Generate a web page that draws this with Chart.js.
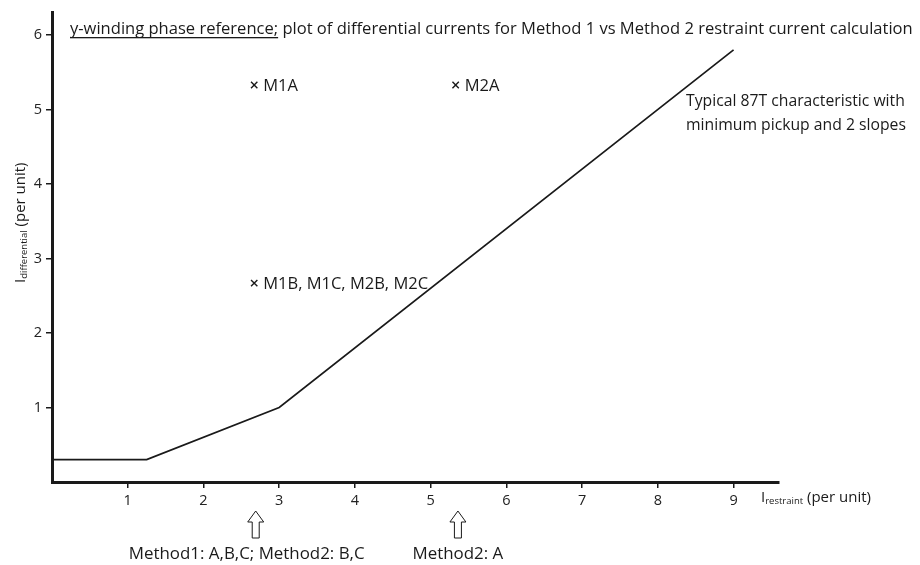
<!DOCTYPE html>
<html>
<head>
<meta charset="utf-8">
<script src="https://cdn.jsdelivr.net/npm/chart.js@4.4.1/dist/chart.umd.min.js"></script>
<style>
  html, body { margin: 0; padding: 0; background: #fff; }
</style>
</head>
<body>
<canvas id="c" width="920" height="565"></canvas>
<script>
// 87T characteristic: minimum pickup, then slope 1 and slope 2
const charX = [0, 1.25, 3, 9];
const charY = [0.3, 0.3, 1.0, 5.8];

// operating points (restraint, differential)
const ptX = [2.67, 5.33, 2.67];
const ptY = [5.33, 5.33, 2.67];
const ptLabels = ['M1A', 'M2A', 'M1B, M1C, M2B, M2C'];

// arrows below the restraint axis
const arrowX = [2.69, 5.36];
const arrowLabels = ['Method1: A,B,C; Method2: B,C', 'Method2: A'];

const xTicks = [1, 2, 3, 4, 5, 6, 7, 8, 9];
const yTicks = [1, 2, 3, 4, 5, 6];

const titleA = 'y-winding phase reference;';
const titleB = ' plot of differential currents for Method 1 vs Method 2 restraint current calculation';
const noteLines = ['Typical 87T characteristic with', 'minimum pickup and 2 slopes'];

const FONT = '"Open Sans", "Noto Sans", sans-serif';
const INK = '#1a1a1a';

function font(px) { return px + 'px ' + FONT; }

// font size that makes text span a given width
function fitSize(ctx, text, width) {
  ctx.font = font(20);
  return 20 * width / ctx.measureText(text).width;
}

// I with a subscript, e.g. I_restraint (per unit)
function drawSubLabel(ctx, sub, rest, x, y) {
  ctx.textAlign = 'left';
  ctx.textBaseline = 'alphabetic';
  ctx.font = font(15);
  ctx.fillText('I', x, y);
  let cx = x + ctx.measureText('I').width;
  ctx.font = font(9.5);
  ctx.fillText(sub, cx, y + 1.5);
  cx += ctx.measureText(sub).width;
  ctx.font = font(15);
  ctx.fillText(rest, cx, y);
}

function hollowArrow(ctx, cx, top) {
  const headH = 11, total = 27, hw = 8, sw = 3.5;
  ctx.beginPath();
  ctx.moveTo(cx, top);
  ctx.lineTo(cx + hw, top + headH);
  ctx.lineTo(cx + sw, top + headH);
  ctx.lineTo(cx + sw, top + total);
  ctx.lineTo(cx - sw, top + total);
  ctx.lineTo(cx - sw, top + headH);
  ctx.lineTo(cx - hw, top + headH);
  ctx.closePath();
  ctx.fillStyle = '#fff';
  ctx.fill();
  ctx.lineWidth = 1;
  ctx.strokeStyle = INK;
  ctx.stroke();
}

const annotate = {
  id: 'annotate',
  afterDraw(chart) {
    const { ctx } = chart;
    const xs = chart.scales.x, ys = chart.scales.y;
    ctx.save();
    ctx.fillStyle = INK;
    ctx.textBaseline = 'alphabetic';
    ctx.textAlign = 'left';

    // title with the underlined lead-in
    const ts = fitSize(ctx, titleA + titleB, 843);
    ctx.font = font(ts);
    ctx.fillText(titleA, 70, 34);
    const wA = ctx.measureText(titleA).width;
    ctx.fillText(titleB, 70 + wA, 34);
    ctx.fillRect(70, 37, wA, 1.3);

    // characteristic note
    const ns = fitSize(ctx, noteLines[0], 219);
    ctx.font = font(ns);
    ctx.fillText(noteLines[0], 686, 106);
    ctx.fillText(noteLines[1], 686, 130);

    // point labels
    ctx.font = font(16.5);
    ctx.textBaseline = 'middle';
    ptX.forEach((v, i) => {
      ctx.fillText(ptLabels[i], xs.getPixelForValue(v) + 9, ys.getPixelForValue(ptY[i]) + 1);
    });

    // arrows and their captions
    ctx.textAlign = 'center';
    ctx.textBaseline = 'alphabetic';
    const as = fitSize(ctx, arrowLabels[0], 236);
    arrowX.forEach((v, i) => {
      const px = xs.getPixelForValue(v);
      hollowArrow(ctx, px, 511);
      ctx.fillStyle = INK;
      ctx.font = font(as);
      ctx.fillText(arrowLabels[i], px - (i === 0 ? 9 : 0), 559);
    });

    // axis titles
    ctx.fillStyle = INK;
    drawSubLabel(ctx, 'restraint', ' (per unit)', 761, 502);
    ctx.translate(25, 283);
    ctx.rotate(-Math.PI / 2);
    drawSubLabel(ctx, 'differential', ' (per unit)', 0, 0);
    ctx.restore();
  }
};

const axisCommon = {
  type: 'linear',
  min: 0,
  grid: { drawOnChartArea: false, drawTicks: true, tickLength: 6, color: INK, lineWidth: 1.5 },
  border: { color: INK, width: 3 },
  ticks: { color: '#222', font: { family: FONT, size: 14.5 }, padding: 4, maxRotation: 0 }
};

new Chart(document.getElementById('c'), {
  type: 'scatter',
  data: {
    datasets: [
      {
        data: charX.map((x, i) => ({ x, y: charY[i] })),
        showLine: true,
        borderColor: INK,
        borderWidth: 1.7,
        pointRadius: 0,
        tension: 0
      },
      {
        data: ptX.map((x, i) => ({ x, y: ptY[i] })),
        showLine: false,
        pointStyle: 'crossRot',
        pointRadius: 4.5,
        borderColor: INK,
        borderWidth: 1.4
      }
    ]
  },
  options: {
    responsive: false,
    animation: false,
    layout: { padding: { left: 0, top: 6, right: 141, bottom: 0 } },
    plugins: { legend: { display: false }, tooltip: { enabled: false } },
    scales: {
      x: Object.assign({}, axisCommon, {
        max: 9.6,
        afterBuildTicks: s => { s.ticks = xTicks.map(v => ({ value: v })); },
        afterFit: s => { s.height = 83; }
      }),
      y: Object.assign({}, axisCommon, {
        max: 6.3,
        afterBuildTicks: s => { s.ticks = yTicks.map(v => ({ value: v })); },
        afterFit: s => { s.width = 52; }
      })
    }
  },
  plugins: [annotate]
});
</script>
</body>
</html>
